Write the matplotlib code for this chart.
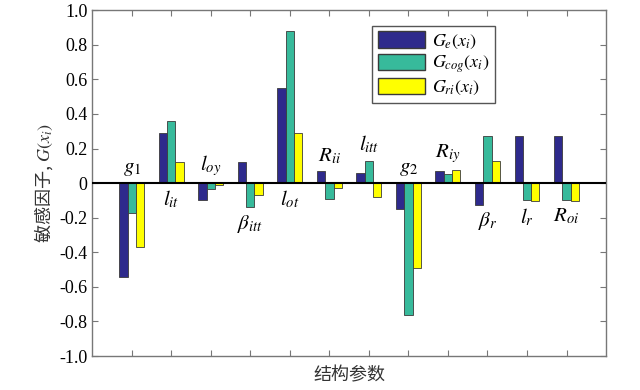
import matplotlib

matplotlib.use("Agg")
import matplotlib.pyplot as plt
from matplotlib.patches import Patch
import numpy as np

plt.rcParams["mathtext.fontset"] = "stix"
plt.rcParams["font.family"] = ["Liberation Serif", "DejaVu Serif"]

PARAMS = [r"g_1", r"l_{it}", r"l_{oy}", r"\beta_{itt}", r"l_{ot}", r"R_{ii}",
          r"l_{itt}", r"g_2", r"R_{iy}", r"\beta_r", r"l_r", r"R_{oi}"]
G_E = [-0.54, 0.29, -0.10, 0.12, 0.55, 0.07, 0.06, -0.15, 0.07, -0.125, 0.27, 0.27]
G_COG = [-0.17, 0.36, -0.035, -0.14, 0.88, -0.09, 0.13, -0.765, 0.055, 0.27, -0.10, -0.10]
G_RI = [-0.37, 0.12, -0.013, -0.07, 0.29, -0.03, -0.08, -0.49, 0.073, 0.13, -0.105, -0.105]
SERIES_LABELS = [r"$G_e(x_i)$", r"$G_{cog}(x_i)$", r"$G_{ri}(x_i)$"]
# label placement: True = above the axis line, False = below
LABEL_ABOVE = [True, False, True, False, False, True, True, True, True, False, False, False]

COLORS = ["#2e2a8c", "#37ba9b", "#ffff00"]
EDGE = "#3a3a3a"


def main() -> None:
    fig = plt.figure(figsize=(6.4, 3.9), dpi=100)
    ax = fig.add_axes([0.144, 0.087, 0.803, 0.887])

    x = np.arange(1, len(PARAMS) + 1)
    w = 0.21
    for k, (vals, col) in enumerate(zip([G_E, G_COG, G_RI], COLORS)):
        ax.bar(x + (k - 1) * w, vals, width=w, color=col, edgecolor=EDGE, linewidth=0.6, zorder=2)

    ax.axhline(0, color="black", lw=1.5, zorder=3)

    for xi, name, above, vals in zip(x, PARAMS, LABEL_ABOVE, zip(G_E, G_COG, G_RI)):
        if above:
            y = max(max(vals), 0) + 0.03
            va = "bottom"
        else:
            y = min(min(vals), 0) - 0.03
            va = "top"
        ax.text(xi, y, f"${name}$", ha="center", va=va, fontsize=15, zorder=4)

    ax.set_xlim(0, 13)
    ax.set_ylim(-1.0, 1.0)
    ax.set_xticks(x)
    ax.set_xticklabels([])
    yt = np.round(np.arange(-1.0, 1.01, 0.2), 1)
    ax.set_yticks(yt)
    ax.set_yticklabels(["0" if v == 0 else f"{v:.1f}" for v in yt], fontsize=13)
    ax.tick_params(direction="in", top=True, right=True, length=4, color="#777777", width=0.8)
    for s in ax.spines.values():
        s.set_color("#777777")
        s.set_linewidth(1.0)

    ax.set_xlabel("结构参数", family=["Noto Sans CJK SC", "DejaVu Sans"], fontsize=13, color="#333333")
    ax.set_ylabel(r"敏感因子, $G(x_i)$", family=["Noto Sans CJK SC", "DejaVu Sans"],
                  fontsize=13, color="#333333", labelpad=3)

    handles = [Patch(facecolor=c, edgecolor=EDGE, label=l) for c, l in zip(COLORS, SERIES_LABELS)]
    ax.legend(handles=handles, loc="upper left", bbox_to_anchor=(0.545, 0.954), borderaxespad=0,
              fontsize=13, fancybox=False, edgecolor="#555555", framealpha=1, handlelength=2.6,
              handleheight=1.0, labelspacing=0.15, borderpad=0.3, handletextpad=0.4)

    fig.savefig("out.png", dpi=100)
    plt.close(fig)


if __name__ == "__main__":
    main()
